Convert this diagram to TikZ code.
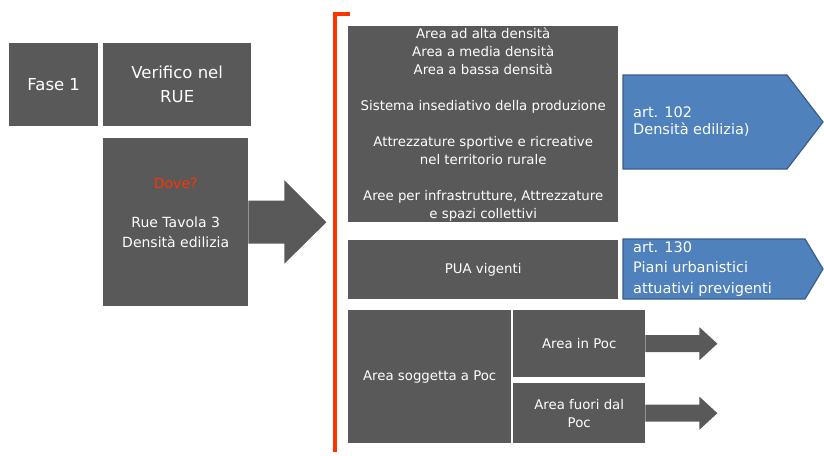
\documentclass[tikz,border=0pt]{standalone}
\usepackage{fontspec}
\setmainfont{DejaVu Sans}
\usetikzlibrary{calc}
\definecolor{tilegray}{HTML}{595959}
\definecolor{artblue}{HTML}{4F81BD}
\definecolor{artedge}{HTML}{385D8A}
\definecolor{markred}{HTML}{FF3300}

\begin{document}
\begin{tikzpicture}[x=1pt, y=-1pt, font=\fontsize{13.3}{18}\selectfont,
  tile/.style={fill=tilegray, text=white, inner sep=0pt, align=center, anchor=north west},
  arttext/.style={text=white, inner sep=0pt, align=left, anchor=west, font=\fontsize{14.5}{#1}\selectfont},
  artshape/.style={fill=artblue, draw=artedge, line width=1.2pt, line join=miter}]
  \useasboundingbox (0,0) rectangle (824,455);

  % Left column -- phase and source
  \node[tile, minimum width=89, minimum height=83, font=\fontsize{16.5}{24}\selectfont] (fase) at (9,43) {Fase 1};
  \node[tile, minimum width=148, minimum height=83, font=\fontsize{16.5}{24}\selectfont] (rue) at (103,43) {Verifico nel\\RUE};
  \node[tile, minimum width=145, minimum height=168] (dove) at (103,138) {};
  \node[text=white, align=center, inner sep=0pt, font=\fontsize{14}{19.7}\selectfont] (dovetext)
    at ($(dove.center)+(0,-9.5)$) {\textcolor{markred}{Dove?}\\[19.7pt]Rue Tavola 3\\Densità edilizia};
  \fill[tilegray] ($(dove.east)+(0,-21.5)$) -- ++(36,0) -- ++(0,-20.5) -- ($(dove.east)+(78,0)$)
    -- ($(dove.east)+(36,41.5)$) -- ++(0,-20) -- ($(dove.east)+(0,21.5)$) -- cycle;

  % Red bracket
  \draw[markred, line width=4.6pt] (350,14) -- (335,14) -- (335,452);

  % Zones of the RUE
  \node[tile, minimum width=270, minimum height=196] (zone) at (348,26)
    {Area ad alta densità\\Area a media densità\\Area a bassa densità\\[18pt]
     Sistema insediativo della produzione\\[18pt]
     Attrezzature sportive e ricreative\\nel territorio rurale\\[18pt]
     Aree per infrastrutture, Attrezzature\\e spazi collettivi};
  \node[tile, minimum width=270, minimum height=59] (pua) at (348,240) {PUA vigenti};
  \node[tile, minimum width=163, minimum height=133] (poc) at (348,310) {Area soggetta a Poc};
  \node[tile, minimum width=132, minimum height=67] (inpoc) at (513,310) {Area in Poc};
  \node[tile, minimum width=132, minimum height=60] (fuoripoc) at (513,383) {Area fuori dal\\Poc};

  % Articles
  \draw[artshape] (623,75) -- (787,75) -- (823,122) -- (787,169) -- (623,169) -- cycle;
  \node[arttext=17] (art102) at (633,122) {art. 102\\Densità edilizia)};
  \draw[artshape] (623,239) -- (805,239) -- (823,269) -- (805,299) -- (623,299) -- cycle;
  \node[arttext=20.5] (art130) at (633,269) {art. 130\\Piani urbanistici\\attuativi previgenti};

  % Poc arrows
  \foreach \n in {inpoc, fuoripoc}
    \fill[tilegray] ($(\n.east)+(0,-8.5)$) -- ++(54,0) -- ++(0,-8) -- ($(\n.east)+(72,0)$)
      -- ($(\n.east)+(54,16.5)$) -- ++(0,-8) -- ($(\n.east)+(0,8.5)$) -- cycle;
\end{tikzpicture}
\end{document}
